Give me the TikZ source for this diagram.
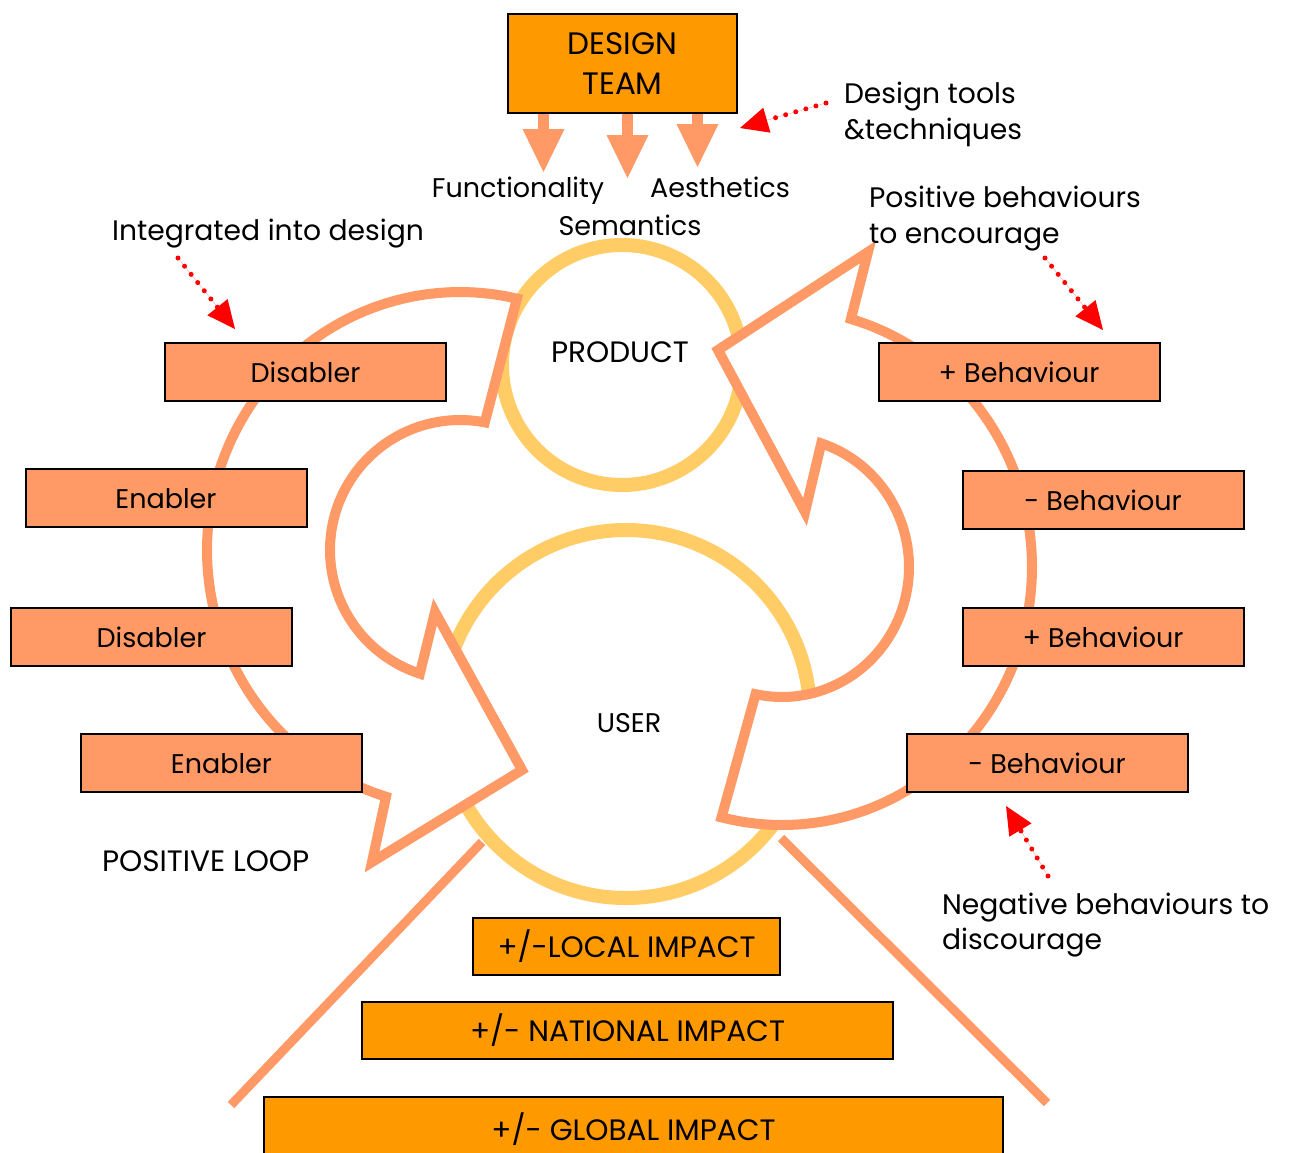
\documentclass[tikz,border=0pt]{standalone}
\usepackage{fontspec}
\setmainfont{Poppins}
\usetikzlibrary{arrows.meta}

\definecolor{salmon}{HTML}{FF9966}
\definecolor{amber}{HTML}{FF9900}
\definecolor{ringyellow}{HTML}{FFCC66}
\definecolor{pointred}{HTML}{FF0000}

\begin{document}
\begin{tikzpicture}[x=1pt,y=-1pt,
  every node/.style={inner sep=0pt, outer sep=0pt},
  txt/.style={font=\fontsize{27}{33}\selectfont, text=black},
  note/.style={font=\fontsize{28.2}{34}\selectfont, text=black},
  caps/.style={font=\fontsize{29.5}{35}\selectfont, text=black},
  tagbox/.style={txt, draw=black, line width=2pt, fill=salmon,
    minimum width=281pt, minimum height=58pt, text height=20pt, text depth=0pt},
  impactbox/.style={caps, draw=black, line width=2pt, fill=amber,
    minimum height=57pt, text height=21pt, text depth=0pt},
  ring/.style={circle, draw=ringyellow, line width=14pt},
  looparrow/.style={draw=salmon, fill=white, line width=10pt, line join=miter, miter limit=12},
  sideline/.style={draw=salmon, line width=9pt},
  feed/.style={draw=salmon, line width=11pt,
    -{Triangle[length=43pt,width=42pt,line width=0pt]}},
  pointer/.style={draw=pointred, fill=pointred, line width=5pt, line cap=round,
    dash pattern=on 0pt off 10.5pt,
    -{Triangle[length=28pt,width=26pt,line width=0pt]}},
]
% canvas
\fill[white] (0,0) rectangle (1289,1152);
\useasboundingbox (0,0) rectangle (1289,1152);

% product and user rings
\node[ring, minimum size=240pt] (product) at (622,365) {};
\node[ring, minimum size=368pt] (user) at (626,714) {};

% sides of the impact pyramid
\coordinate (pl1) at (482,842); \coordinate (pl2) at (231,1105);
\coordinate (pr1) at (781,838); \coordinate (pr2) at (1047,1103);
\draw[sideline] (pl1) -- (pl2);
\draw[sideline] (pr1) -- (pr2);

% left circular arrow: from the product round to the user
\draw[looparrow]
  plot[domain=-77:-253, samples=90, variable=\t] ({460+253*cos(\t)},{550+258*sin(\t)})
  -- (372,862) -- (522,770) -- (435,612)
  -- plot[domain=108:281, samples=90, variable=\t] ({460+130*cos(\t)},{550+130*sin(\t)})
  -- cycle;

% right circular arrow: from the user back to the product
\draw[looparrow]
  plot[domain=104:-74, samples=90, variable=\t] ({782+250*cos(\t)},{567+258*sin(\t)})
  -- (868,252) -- (718,350) -- (805,512)
  -- plot[domain=-72:102, samples=90, variable=\t] ({782+127*cos(\t)},{567+130*sin(\t)})
  -- cycle;

% design team and its outputs
\draw[feed] (543.5,112) -- (543.5,172);
\draw[feed] (627.5,112) -- (627.5,178);
\draw[feed] (697.5,112) -- (697.5,167);
\node[draw=black, line width=2pt, fill=amber, minimum width=229pt, minimum height=99pt,
  font=\fontsize{31}{40}\selectfont, align=center] (team) at (622.5,63.5) {DESIGN\\TEAM};

\node[txt, anchor=base] (func) at (518,197) {Functionality};
\node[txt, anchor=base] (aest) at (720,197) {Aesthetics};
\node[txt, anchor=base] (sem) at (630,235) {Semantics};

% labels
\node[note, anchor=base west] (tools) at (844,103) {Design tools};
\node[note, anchor=base west] (tech) at (844,139) {\&techniques};
\node[note, anchor=base] (integ) at (268,240) {Integrated into design};
\node[note, anchor=base west] (posb) at (869,207) {Positive behaviours};
\node[note, anchor=base west] (posb2) at (869,243) {to encourage};
\node[note, anchor=base west] (negb) at (942,914) {Negative behaviours to};
\node[note, anchor=base west] (negb2) at (942,949) {discourage};
\node[caps, anchor=base west] (loop) at (102,871) {POSITIVE LOOP};
\node[caps, anchor=base] (prodtxt) at (620,362) {PRODUCT};
\node[txt, anchor=base] (usertxt) at (629,732) {USER};

% enablers and disablers
\node[tagbox] (d1) at (305.5,372) {Disabler};
\node[tagbox] (e1) at (166,498) {Enabler};
\node[tagbox] (d2) at (151.5,637) {Disabler};
\node[tagbox] (e2) at (221.5,763) {Enabler};

% behaviours
\node[tagbox] (b1) at (1019,372) {+ Behaviour};
\node[tagbox] (b2) at (1103,500) {- Behaviour};
\node[tagbox] (b3) at (1103,637) {+ Behaviour};
\node[tagbox] (b4) at (1047,763) {- Behaviour};

% impact levels
\node[impactbox, minimum width=307pt] (local) at (626.5,946.5) {+/-LOCAL IMPACT};
\node[impactbox, minimum width=531pt] (national) at (627.5,1030.5) {+/- NATIONAL IMPACT};
\node[impactbox, minimum width=739pt, minimum height=66pt] (global) at (633.5,1130) {+/- GLOBAL IMPACT};

% red pointers
\coordinate (pa) at (826,103);  \coordinate (pa2) at (740,128);
\coordinate (pb) at (178,258);  \coordinate (pb2) at (235,329);
\coordinate (pc) at (1045,258); \coordinate (pc2) at (1103,330);
\coordinate (pd) at (1048,876); \coordinate (pd2) at (1006,806);
\draw[pointer] (pa) -- (pa2);
\draw[pointer] (pb) -- (pb2);
\draw[pointer] (pc) -- (pc2);
\draw[pointer] (pd) -- (pd2);
\end{tikzpicture}
\end{document}
